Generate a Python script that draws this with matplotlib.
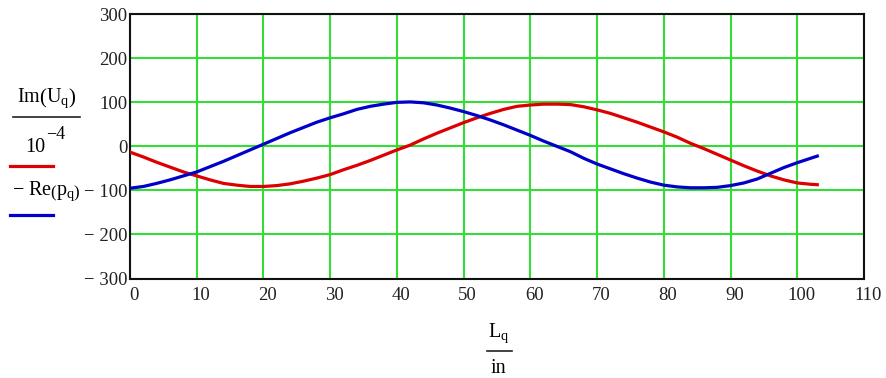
import matplotlib
matplotlib.use("Agg")
import matplotlib.pyplot as plt
from matplotlib.lines import Line2D
from matplotlib.transforms import ScaledTranslation

plt.rcParams['font.family'] = 'Liberation Serif'
plt.rcParams['mathtext.fontset'] = 'custom'
plt.rcParams['mathtext.rm'] = 'Liberation Serif'
plt.rcParams['mathtext.it'] = 'Liberation Serif:italic'

# L_q / in values
x_vals = [0, 2, 4, 6, 8, 10, 12, 14, 16, 18, 20, 22, 24, 26, 28, 30, 32, 34, 36, 38,
          40, 42, 44, 46, 48, 50, 52, 54, 56, 58, 60, 62, 64, 66, 68, 70, 72, 74, 76, 78,
          80, 82, 84, 86, 88, 90, 92, 94, 96, 98, 100, 102, 103]

# Im(U_q) / 1e-4
im_u = [-13, -24, -36, -47, -58, -67, -76, -84, -88, -91, -91, -89, -85, -79, -72, -64, -53, -43, -32, -20,
        -8, 3, 17, 30, 42, 54, 65, 75, 84, 91, 94, 96, 96, 95, 90, 83, 75, 65, 55, 44,
        33, 21, 7, -5, -18, -31, -44, -56, -67, -76, -83, -86, -87]

# -Re(p_q)
re_p = [-95, -91, -84, -76, -67, -58, -46, -34, -21, -8, 5, 18, 31, 43, 55, 65, 74, 84, 91, 96,
        100, 101, 99, 94, 87, 79, 70, 60, 49, 37, 25, 12, 0, -12, -27, -40, -51, -62, -72, -81,
        -88, -92, -94, -94, -93, -89, -83, -74, -61, -48, -37, -27, -22]

x_ticks = list(range(0, 111, 10))
y_ticks = list(range(-300, 301, 100))

W, H = 886, 378
fig = plt.figure(figsize=(W / 100, H / 100), dpi=100)
ax = fig.add_axes([130 / W, 1 - 278.5 / H, 734 / W, 264.2 / H])

ax.plot(x_vals, im_u, color='#dd0000', lw=2.3, zorder=3)
ax.plot(x_vals, re_p, color='#0000c8', lw=2.3, zorder=4)

ax.set_xlim(0, 110)
ax.set_ylim(-300, 300)
ax.set_xticks(x_ticks)
ax.set_yticks(y_ticks)
ax.set_xticklabels([str(v) for v in x_ticks])
ax.set_yticklabels([('\u2212 ' + str(-v)) if v < 0 else str(v) for v in y_ticks])
ax.tick_params(length=0, labelsize=13.5, colors='#222222')
ax.tick_params(axis='x', pad=6)
ax.tick_params(axis='y', pad=2)
for lab in ax.get_xticklabels():
    lab.set_transform(lab.get_transform() + ScaledTranslation(0.04, 0, fig.dpi_scale_trans))

ax.grid(True, color='#33dd33', lw=1.5, zorder=1)
ax.set_axisbelow(True)
for s in ax.spines.values():
    s.set_color('#111111')
    s.set_linewidth(1.5)

# y "label" in Mathcad style
def fx(px):
    return px / W

def fy(py):
    return 1 - py / H

fs = 14.5
fig.text(fx(47), fy(102), r'$\mathrm{Im}\left(\mathrm{U_q}\right)$', ha='center', va='baseline', fontsize=fs)
fig.add_artist(Line2D([fx(13), fx(80)], [fy(116.5), fy(116.5)], color='#222222', lw=1.2))
fig.text(fx(25), fy(152), '10', ha='left', va='baseline', fontsize=fs)
fig.text(fx(46), fy(139), '\u22124', ha='left', va='baseline', fontsize=13)
fig.add_artist(Line2D([fx(10), fx(53)], [fy(166), fy(166)], color='#dd0000', lw=2.3))
fig.text(fx(12), fy(195), r'$\mathrm{-\ Re}\left(\mathrm{p_q}\right)$', ha='left', va='baseline', fontsize=fs)
fig.add_artist(Line2D([fx(10), fx(53)], [fy(215), fy(215)], color='#0000c8', lw=2.3))

# x "label"
fig.text(fx(499), fy(337), r'$\mathrm{L_q}$', ha='center', va='baseline', fontsize=fs)
fig.add_artist(Line2D([fx(487), fx(512)], [fy(350.5), fy(350.5)], color='#222222', lw=1.2))
fig.text(fx(498), fy(373), 'in', ha='center', va='baseline', fontsize=fs)

fig.savefig('out.png', dpi=100)
